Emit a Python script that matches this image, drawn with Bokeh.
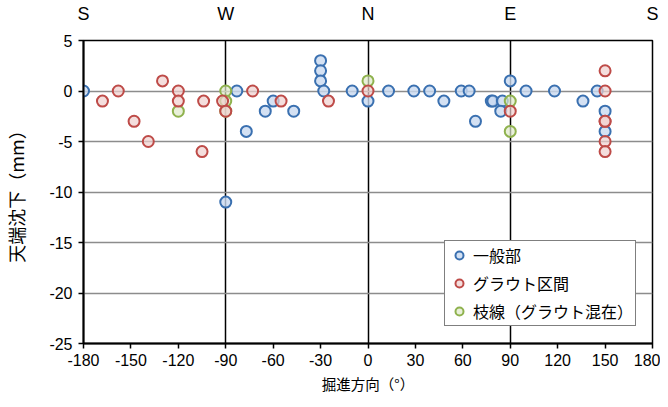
from bokeh.plotting import figure
from bokeh.models import Range1d, FixedTicker, LinearAxis, Legend, LegendItem
from bokeh.embed import file_html
from bokeh.resources import INLINE

# 一般部
gen_x = [-180, -90, -83, -77, -65, -60, -47, -30, -30, -30, -28, -10, 0, 13, 29, 39, 48, 59, 64, 68, 78, 79, 85, 84, 90, 100, 118, 136, 145, 150, 150]
gen_y = [0, -11, 0, -4, -2, -1, -2, 3, 2, 1, 0, 0, -1, 0, 0, 0, -1, 0, 0, -3, -1, -1, -1, -2, 1, 0, 0, -1, 0, -2, -4]
# グラウト区間
grout_x = [-168, -158, -148, -139, -130, -120, -120, -104, -105, -92, -90, -73, -55, -25, 0, 90, 150, 150, 150, 150, 150, 150]
grout_y = [-1, 0, -3, -5, 1, 0, -1, -1, -6, -1, -2, 0, -1, -1, 0, -2, 2, 0, -3, -3, -5, -6]
# 枝線（グラウト混在）
br_x = [-120, -90, -90, -90, 0, 90, 90]
br_y = [-2, 0, -1, -2, 1, -1, -4]

x_ticks = [-180, -150, -120, -90, -60, -30, 0, 30, 60, 90, 120, 150, 180]
y_ticks = [5, 0, -5, -10, -15, -20, -25]
dir_ticks = [-180, -90, 0, 90, 180]
dir_labels = ["S", "W", "N", "E", "S"]

NUM_FONT = "Liberation Sans"
JP_FONT = "Noto Sans CJK JP"

p = figure(frame_width=569, frame_height=303, output_backend="svg", toolbar_location=None,
           x_range=Range1d(-180, 180), y_range=Range1d(-25, 5),
           min_border_left=75, min_border_right=8, min_border_top=32, min_border_bottom=56)
p.outline_line_color = "black"
p.outline_line_width = 1.5

# grids
p.ygrid.ticker = FixedTicker(ticks=y_ticks)
p.ygrid.grid_line_color = "#8c8c8c"
p.ygrid.grid_line_width = 1.5
p.xgrid.ticker = FixedTicker(ticks=[-90, 0, 90])
p.xgrid.grid_line_color = "black"
p.xgrid.grid_line_width = 1.5

# axes
for ax, ticks in ((p.xaxis[0], x_ticks), (p.yaxis[0], y_ticks)):
    ax.ticker = FixedTicker(ticks=ticks)
    ax.major_label_overrides = {t: str(t) for t in ticks}
    ax.axis_line_color = "black"
    ax.axis_line_width = 2
    ax.major_tick_line_color = "black"
    ax.major_tick_line_width = 1.5
    ax.major_tick_in = 0
    ax.major_tick_out = 5
    ax.minor_tick_line_color = None
    ax.major_label_text_font = NUM_FONT
    ax.major_label_text_font_size = "16px"
    ax.major_label_text_color = "black"
    ax.axis_label_text_font = JP_FONT
    ax.axis_label_text_font_style = "normal"
    ax.axis_label_text_color = "black"

p.xaxis.axis_label = "掘進方向（°）"
p.yaxis.axis_label = "天端沈下（mm）"
p.xaxis.axis_label_text_font_size = "14.5px"
p.yaxis.axis_label_text_font_size = "18px"
p.xaxis.major_label_standoff = 5
p.xaxis.axis_label_standoff = 4
p.yaxis.major_label_standoff = 6
p.yaxis.axis_label_standoff = 17

top = LinearAxis(ticker=FixedTicker(ticks=dir_ticks),
                 major_label_overrides={t: s for t, s in zip(dir_ticks, dir_labels)})
top.axis_line_color = None
top.major_tick_line_color = None
top.minor_tick_line_color = None
top.major_label_text_font = NUM_FONT
top.major_label_text_font_size = "18px"
top.major_label_text_color = "black"
top.major_label_standoff = 11
p.add_layout(top, "above")

r_gen = p.scatter(gen_x, gen_y, size=11, line_color="#3a70b0", line_width=2,
                  fill_color="#c9daf0", fill_alpha=0.8)
r_br = p.scatter(br_x, br_y, size=11, line_color="#8fb24e", line_width=2,
                 fill_color="#dfeacb", fill_alpha=0.7)
r_gr = p.scatter(grout_x, grout_y, size=11, line_color="#be4b48", line_width=2,
                 fill_color="#f0d0cf", fill_alpha=0.7)

legend = Legend(items=[LegendItem(label="一般部", renderers=[r_gen]),
                       LegendItem(label="グラウト区間", renderers=[r_gr]),
                       LegendItem(label="枝線（グラウト混在）", renderers=[r_br])],
                location=(361, 17))
legend.label_text_font = JP_FONT
legend.label_text_font_size = "16px"
legend.label_text_color = "black"
legend.glyph_width = 24
legend.glyph_height = 20
legend.label_standoff = 2
legend.label_height = 20
legend.spacing = 4
legend.padding = 2
legend.margin = 0
legend.border_line_color = "black"
legend.border_line_width = 1
legend.background_fill_color = "white"
legend.background_fill_alpha = 1
p.add_layout(legend, "center")

open("out.html", "w").write(file_html(p, INLINE))
